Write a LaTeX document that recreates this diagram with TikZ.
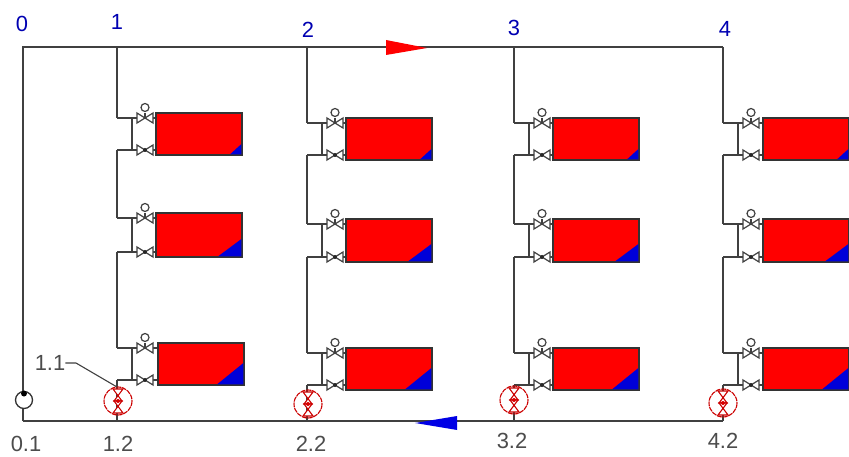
\documentclass[tikz,border=0pt]{standalone}
\usepackage{fontspec}
\setmainfont{Liberation Sans}
\tikzset{
  pipe/.style={draw=black!75,line width=1.4pt},
  radbox/.style={draw=black!80,line width=1.3pt,fill=red},
  bluecorner/.style={fill=blue!85!black},
  valveshape/.style={draw=black!75,line width=1.2pt,fill=white},
  redline/.style={draw=red!80!black,line width=1.1pt},
  blab/.style={text=blue!70!black,font=\fontsize{22}{22}\selectfont,inner sep=0pt},
  klab/.style={text=black!70,font=\fontsize{22}{22}\selectfont,inner sep=0pt},
}
% row: spine x, radiator top, radiator bottom, blue w, blue h, radiator shift
\newcommand{\rowunit}[6]{%
  \coordinate (s1) at (#1,#2+5);
  \coordinate (s2) at (#1+15,#2+5);
  \coordinate (s3) at (#1+15,#3-5);
  \coordinate (s4) at (#1,#3-5);
  \draw[pipe] (s1)--(s2)--(s3)--(s4);
  \draw[pipe] (s2)--(#1+39+#6,#2+5);
  \draw[pipe] (s3)--(#1+39+#6,#3-5);
  \draw[radbox] (#1+39+#6,#2) rectangle (#1+125+#6,#3);
  \fill[bluecorner] (#1+125+#6-#4,#3-0.6) -- (#1+124.4+#6,#3-#5) -- (#1+124.4+#6,#3-0.6) -- cycle;
  \foreach \yy in {#2+5,#3-5}{
    \draw[valveshape] (#1+20,\yy-5) -- (#1+36,\yy+5) -- (#1+36,\yy-5) -- (#1+20,\yy+5) -- cycle;
  }
  \draw[black!75,line width=1.2pt] (#1+28,#2+5) -- (#1+28,#2);
  \draw[valveshape] (#1+28,#2-5.5) circle (4);
  \fill[black!85] (#1+28,#3-5) circle (2);
}
\newcommand{\ringvalve}[2]{%
  \draw[redline,dash pattern=on 5pt off 0.8pt] (#1,#2) circle (14);
  \draw[redline,fill=white] (#1-5,#2-12) -- (#1+5,#2-12) -- (#1-4,#2) -- (#1+4,#2) -- cycle;
  \draw[redline,fill=white] (#1-4,#2) -- (#1+4,#2) -- (#1-5,#2+12) -- (#1+5,#2+12) -- cycle;
  \fill[red!85!black] (#1,#2) circle (2);
}
\begin{document}
\begin{tikzpicture}[x=1bp,y=-1bp]
\useasboundingbox (0,0) rectangle (849,457);
\fill[white] (0,0) rectangle (849,457);
% named main junctions
\coordinate (c0t) at (23,47);
\coordinate (c1t) at (117,47);
\coordinate (c2t) at (307,47);
\coordinate (c3t) at (514,47);
\coordinate (c4t) at (723,47);
\coordinate (c0b) at (23,421);
\coordinate (c1b) at (117,421);
\coordinate (c2b) at (307,421);
\coordinate (c3b) at (514,421);
\coordinate (c4b) at (723,421);
% mains
\draw[pipe] (c0b)--(c0t)--(c4t);
\draw[pipe] (c0b)--(c4b);
% risers
\draw[pipe] (c1t)--(117,118) (117,150)--(117,218) (117,252)--(117,348) (117,380)--(c1b);
\foreach \s/\e in {307/c2,514/c3,723/c4}{
  \draw[pipe] (\e t)--(\s,123) (\s,155)--(\s,224) (\s,257)--(\s,353) (\s,385)--(\e b);
}
% radiators
\rowunit{117}{113}{155}{12}{11}{0}
\rowunit{117}{213}{257}{24}{18}{0}
\rowunit{117}{343}{385}{27}{22}{2}
\foreach \s/\d in {307/0,514/0,723/1}{
  \rowunit{\s}{118}{160}{12}{11}{\d}
  \rowunit{\s}{219}{262}{24}{18}{\d}
  \rowunit{\s}{348}{390}{27}{22}{\d}
}
% regulating valves
\ringvalve{118}{401}
\ringvalve{308}{404}
\ringvalve{514}{400}
\ringvalve{723}{403}
% pump
\draw[draw=black!80,line width=1.3pt,fill=white] (24,400) circle (8.5);
\fill[black] (24,393.5) circle (3);
% flow arrows
\fill[red] (386,40) -- (427,48) -- (386,55) -- cycle;
\fill[blue!90!black] (457,416) -- (415,423) -- (457,430) -- cycle;
% leader
\coordinate (l1) at (117,387);
\node[klab] (n11) at (50,363) {1.1};
\draw[black!75,line width=1.1pt] (n11.east) -- (76,363) -- (l1);
% labels
\node[blab] (n0) at (22,24) {0};
\node[blab] (n1) at (117,22) {1};
\node[blab] (n2) at (308,30) {2};
\node[blab] (n3) at (514,28) {3};
\node[blab] (n4) at (725,29) {4};
\node[klab] (n01) at (26,444) {0.1};
\node[klab] (n12) at (118,444) {1.2};
\node[klab] (n22) at (311,444) {2.2};
\node[klab] (n32) at (512,441) {3.2};
\node[klab] (n42) at (723,441) {4.2};
\end{tikzpicture}
\end{document}
